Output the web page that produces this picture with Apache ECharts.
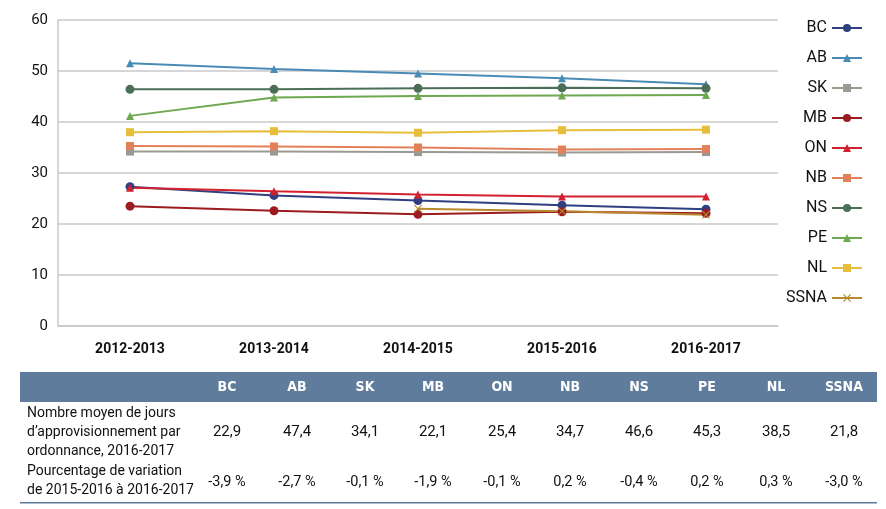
<!DOCTYPE html>
<html><head><meta charset="utf-8">
<script src="https://cdn.jsdelivr.net/npm/echarts@6/dist/echarts.min.js"></script>
<style>html,body{margin:0;padding:0;background:#fff}#c{width:886px;height:509px}</style>
</head><body><div id="c"></div>
<script>
const years = ['2012-2013','2013-2014','2014-2015','2015-2016','2016-2017'];
const seriesNames = ['BC','AB','SK','MB','ON','NB','NS','PE','NL','SSNA'];
const BC   = [27.3, 25.6, 24.6, 23.7, 22.9];
const AB   = [51.5, 50.4, 49.5, 48.6, 47.4];
const SK   = [34.2, 34.2, 34.1, 34.0, 34.1];
const MB   = [23.5, 22.6, 21.9, 22.4, 22.1];
const ON   = [27.1, 26.4, 25.8, 25.4, 25.4];
const NB   = [35.3, 35.2, 35.0, 34.6, 34.7];
const NS   = [46.4, 46.4, 46.6, 46.7, 46.6];
const PE   = [41.2, 44.8, 45.1, 45.2, 45.3];
const NL   = [38.0, 38.2, 37.9, 38.4, 38.5];
const SSNA = [null, null, 23.0, 22.5, 21.8];
const yTicks = [0, 10, 20, 30, 40, 50, 60];
const tableDays = ['22,9','47,4','34,1','22,1','25,4','34,7','46,6','45,3','38,5','21,8'];
const tablePct  = ['-3,9 %','-2,7 %','-0,1 %','-1,9 %','-0,1 %','0,2 %','-0,4 %','0,2 %','0,3 %','-3,0 %'];
const row1Label = ['Nombre moyen de jours', 'd\u2019approvisionnement par', 'ordonnance, 2016-2017'];
const row2Label = ['Pourcentage de variation', 'de 2015-2016 \u00e0 2016-2017'];

const dataMap = {BC, AB, SK, MB, ON, NB, NS, PE, NL, SSNA};
const colors = {BC:'#2f3f80', AB:'#4a8bb6', SK:'#9a9a92', MB:'#9c1b20', ON:'#d2222f', NB:'#e2805a', NS:'#4b6e57', PE:'#6ea851', NL:'#e6be3c', SSNA:'#b8892c'};
const crossPath = 'path://M1,0L5,4L9,0L10,1L6,5L10,9L9,10L5,6L1,10L0,9L4,5L0,1Z';
const symbols = {BC:'circle', AB:'triangle', SK:'rect', MB:'circle', ON:'triangle', NB:'rect', NS:'circle', PE:'triangle', NL:'rect', SSNA:crossPath};

const chart = echarts.init(document.getElementById('c'), null, {renderer:'canvas'});
const font = 'Roboto, "Liberation Sans", Arial, sans-serif';
const condFont = '"DejaVu Sans Condensed", "Liberation Sans Narrow", "Roboto", sans-serif';

const series = seriesNames.map(n => ({
  name: n, type: 'line', data: dataMap[n],
  symbol: symbols[n], symbolSize: n === 'SSNA' ? 8 : (symbols[n]==='circle' ? 9 : 8),
  lineStyle: {color: colors[n], width: 2},
  itemStyle: {color: colors[n]},
  showSymbol: true, connectNulls: false, animation: false
}));

// table graphics
const colX = [227, 297, 365, 433, 502, 570, 639, 707, 776, 844];
const g = [];
g.push({type:'rect', shape:{x:20, y:372, width:857, height:30}, style:{fill:'#5f7c9c'}});
seriesNames.forEach((n,i)=>{
  g.push({type:'text', x:colX[i], y:387, style:{text:n, fill:'#fff', font:'bold 14px '+condFont, align:'center', verticalAlign:'middle'}});
  g.push({type:'text', x:colX[i], y:432, style:{text:tableDays[i], fill:'#111', font:'15px '+font, align:'center', verticalAlign:'middle'}});
  g.push({type:'text', x:colX[i], y:482, style:{text:tablePct[i], fill:'#111', font:'14.5px '+font, align:'center', verticalAlign:'middle'}});
});
row1Label.forEach((t,i)=>g.push({type:'text', x:27, y:413+i*19, style:{text:t, fill:'#111', font:'14px '+font, align:'left', verticalAlign:'middle'}}));
row2Label.forEach((t,i)=>g.push({type:'text', x:27, y:471+i*19, style:{text:t, fill:'#111', font:'14px '+font, align:'left', verticalAlign:'middle'}}));
g.push({type:'rect', shape:{x:20, y:502, width:857, height:1.5}, style:{fill:'#5f7c9c'}});

chart.setOption({
  animation: false,
  color: seriesNames.map(n=>colors[n]),
  grid: {left: 58, right: 108, top: 20, bottom: 183, containLabel: false},
  legend: {
    orient: 'vertical', right: 18, top: 15, align: 'right',
    itemWidth: 30, itemHeight: 10, itemGap: 14,
    textStyle: {fontFamily: font, fontSize: 16, color: '#111'},
    data: seriesNames
  },
  xAxis: {
    type: 'category', data: years, boundaryGap: true,
    axisLine: {show: true, lineStyle: {color: '#c8c8c8', width: 1.5}},
    axisTick: {show: false},
    axisLabel: {fontFamily: font, fontSize: 14, fontWeight: 'bold', color: '#111', margin: 16}
  },
  yAxis: {
    type: 'value', min: 0, max: 60, interval: 10,
    axisLine: {show: true, lineStyle: {color: '#c8c8c8', width: 1.5}},
    axisTick: {show: false},
    splitLine: {lineStyle: {color: '#c8c8c8', width: 1.5}},
    axisLabel: {fontFamily: font, fontSize: 15, color: '#111', margin: 10,
      formatter: v => yTicks.includes(v) ? String(v) : ''}
  },
  series: series,
  graphic: g
});
</script></body></html>
